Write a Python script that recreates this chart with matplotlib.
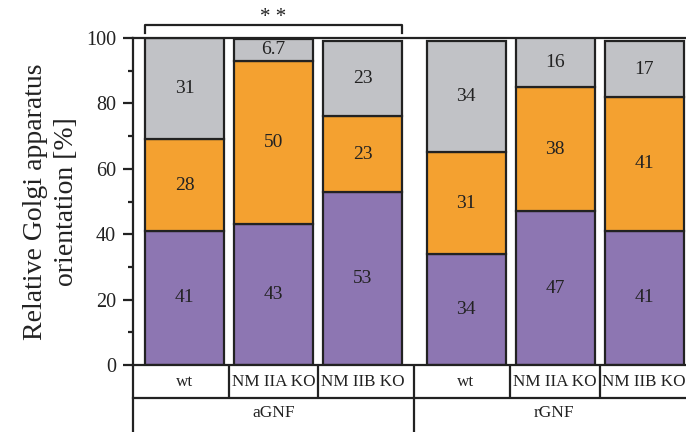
import matplotlib
matplotlib.use("Agg")
import matplotlib.pyplot as plt
from matplotlib.transforms import blended_transform_factory
from matplotlib.ticker import MultipleLocator

plt.rcParams['font.family'] = ['Liberation Serif', 'DejaVu Serif']

conditions = ["wt", "NM IIA KO", "NM IIB KO", "wt", "NM IIA KO", "NM IIB KO"]
groups = ["aGNF", "rGNF"]
purple_vals = [41, 43, 53, 34, 47, 41]
orange_vals = [28, 50, 23, 31, 38, 41]
gray_vals = [31, 6.7, 23, 34, 16, 17]
value_labels = [
    ["41", "43", "53", "34", "47", "41"],
    ["28", "50", "23", "31", "38", "41"],
    ["31", "6.7", "23", "34", "16", "17"],
]
significance = "**"

c_purple = "#8D76B2"
c_orange = "#F4A130"
c_gray = "#C1C2C6"
edge = "#222222"
txt = "#222222"
lw = 1.6

W, H = 686, 432
fig = plt.figure(figsize=(W / 100, H / 100), dpi=100)
fig.patch.set_facecolor("white")

# axes extends past the right border of the canvas
left_px, right_px, top_px, bot_px = 133, 712, 38, 365
ax = fig.add_axes([left_px / W, 1 - bot_px / H, (right_px - left_px) / W, (bot_px - top_px) / H])

step = 89.0
group_gap = 103.5 / step
xs = [0, 1, 2, 2 + group_gap, 3 + group_gap, 4 + group_gap]
bw = 79 / step
x0 = -(184.5 - left_px) / step
x1 = x0 + (right_px - left_px) / step

bottoms2 = [p + o for p, o in zip(purple_vals, orange_vals)]
ax.bar(xs, purple_vals, bw, color=c_purple, edgecolor=edge, linewidth=lw, zorder=2)
ax.bar(xs, orange_vals, bw, bottom=purple_vals, color=c_orange, edgecolor=edge, linewidth=lw, zorder=2)
ax.bar(xs, gray_vals, bw, bottom=bottoms2, color=c_gray, edgecolor=edge, linewidth=lw, zorder=2)

for i, x in enumerate(xs):
    segs = [(0, purple_vals[i]), (purple_vals[i], orange_vals[i]), (bottoms2[i], gray_vals[i])]
    for k, (b, h) in enumerate(segs):
        top = min(b + h, 100)
        ax.text(x, (b + top) / 2, value_labels[k][i], ha="center", va="center",
                fontsize=14, color=txt, zorder=3)

ax.set_xlim(x0, x1)
ax.set_ylim(0, 100)
ax.set_xticks([])
ax.yaxis.set_major_locator(MultipleLocator(20))
ax.yaxis.set_minor_locator(MultipleLocator(10))
ax.tick_params(axis="y", which="major", length=7.2, width=lw, labelsize=14.5, color=edge,
               labelcolor=txt, pad=5)
ax.tick_params(axis="y", which="minor", length=3.6, width=lw, color=edge)
for s in ["left", "top", "bottom"]:
    ax.spines[s].set_linewidth(lw)
    ax.spines[s].set_color(edge)
ax.spines["right"].set_visible(False)

ax.set_ylabel("Relative Golgi apparatus\norientation [%]", fontsize=20, color=txt,
              labelpad=5, linespacing=1.32)

# category table below the axes
tr = blended_transform_factory(ax.transData, fig.transFigure)
row1_top = 1 - 365 / H
row1_bot = 1 - 398 / H
fig_bot = 0.0

def vline(x, y_a, y_b):
    ax.plot([x, x], [y_a, y_b], transform=tr, color=edge, lw=lw, clip_on=False, zorder=5,
            solid_capstyle="butt")

ax.plot([x0, x1], [row1_bot, row1_bot], transform=tr, color=edge, lw=lw, clip_on=False, zorder=5)
vline(x0, row1_top, fig_bot)

bounds = [x0] + [(xs[i] + xs[i + 1]) / 2 for i in range(len(xs) - 1)] + [xs[-1] + 0.5]
for b in bounds[1:]:
    vline(b, row1_top, row1_bot)
for i, name in enumerate(conditions):
    ax.text(xs[i], (row1_top + row1_bot) / 2, name, transform=tr, ha="center", va="center",
            fontsize=12.3, color=txt, clip_on=False)

split = bounds[3]
vline(split, row1_bot, fig_bot)
group_centers = [(x0 + split) / 2, (split + bounds[-1] + 0.05) / 2]
for g, gx in zip(groups, group_centers):
    ax.text(gx, (row1_bot + (1 - 432 / H)) / 2 + 0.004, g, transform=tr, ha="center", va="center",
            fontsize=12.5, color=txt, clip_on=False)

# significance bracket over the aGNF bars
yb_top = 1 - 25 / H
yb_bot = 1 - 33 / H
bx_l = xs[0] - bw / 2
bx_r = xs[2] + bw / 2
ax.plot([bx_l, bx_l, bx_r, bx_r], [yb_bot, yb_top, yb_top, yb_bot], transform=tr,
        color=edge, lw=lw, clip_on=False)
ax.text((bx_l + bx_r) / 2, 1 - 8 / H, " ".join(significance), transform=tr, ha="center", va="top",
        fontsize=15, color=txt)

fig.savefig("out.png", dpi=100)
